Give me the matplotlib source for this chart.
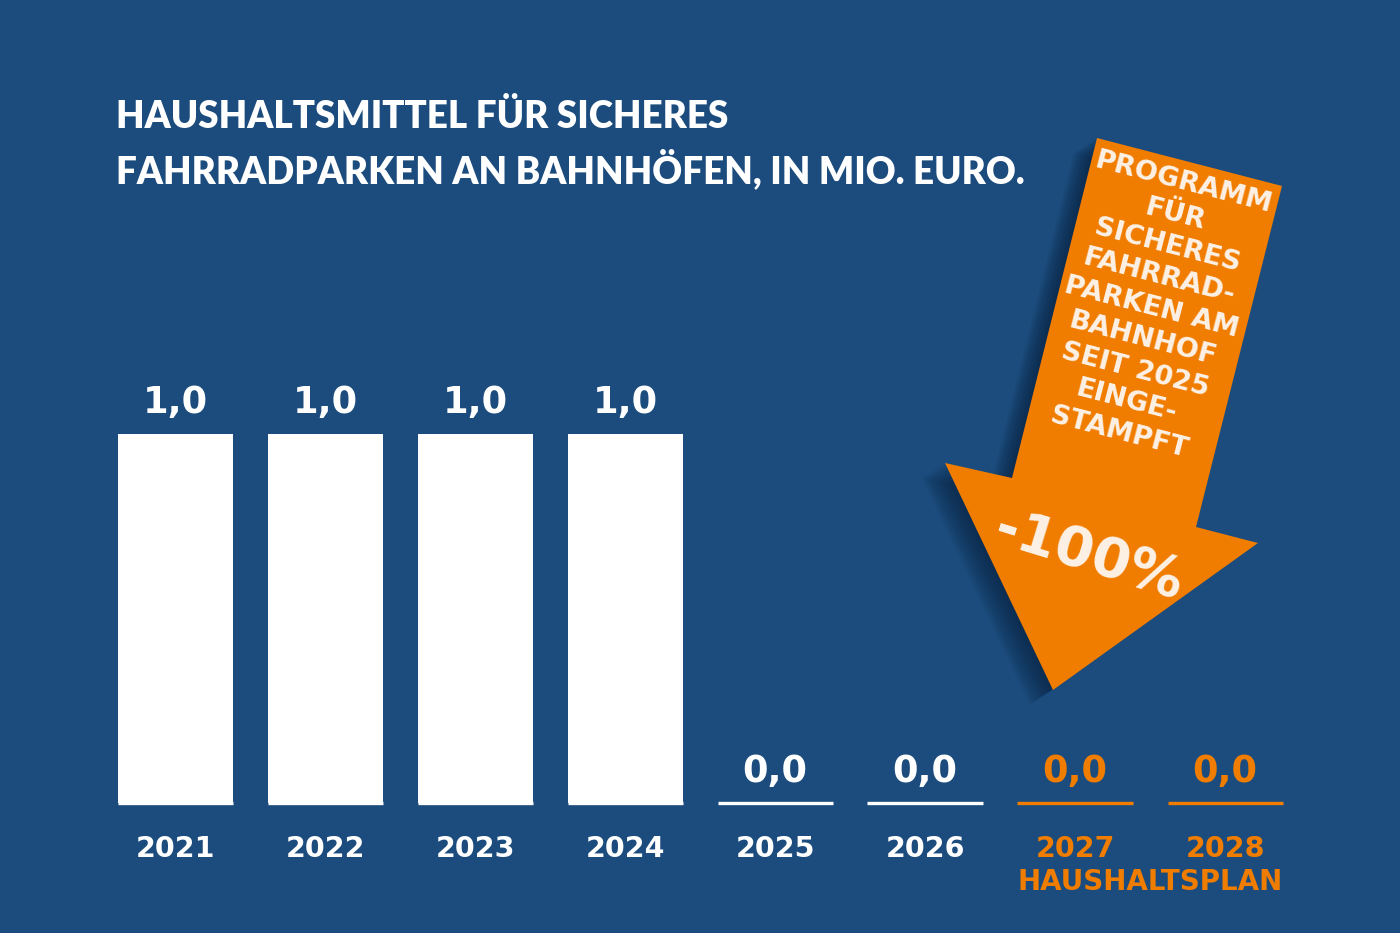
import matplotlib.pyplot as plt
from matplotlib.patches import Polygon
import numpy as np

# --- data ---
years = ["2021", "2022", "2023", "2024", "2025", "2026", "2027", "2028"]
values = [1.0, 1.0, 1.0, 1.0, 0.0, 0.0, 0.0, 0.0]
planned = [False, False, False, False, False, False, True, True]
title = "HAUSHALTSMITTEL FÜR SICHERES\nFAHRRADPARKEN AN BAHNHÖFEN, IN MIO. EURO."
arrow_text = "PROGRAMM\nFÜR\nSICHERES\nFAHRRAD-\nPARKEN AM\nBAHNHOF\nSEIT 2025\nEINGE-\nSTAMPFT"
change_label = "-100%"
plan_label = "HAUSHALTSPLAN"

BG = "#1b4c7d"
ORANGE = "#f07d00"
WHITE = "#ffffff"
CREAM = "#fdf1e6"
SHADOW = "#0a2240"

W, H = 1400, 933
fig = plt.figure(figsize=(W / 100, H / 100), dpi=100)
fig.patch.set_facecolor(BG)

# bar axes over the whole figure: index 0 centred at x=175px, 150px apart,
# zero line at 130px from bottom, 1.0 = 369px
ax = fig.add_axes([0, 0, 1, 1])
ax.set_facecolor(BG)
ax.set_xlim(-175 / 150, (W - 175) / 150)
ax.set_ylim(-130 / 369, (H - 130) / 369)
ax.axis("off")

x = np.arange(len(years))
cols = [ORANGE if p else WHITE for p in planned]
bw = 115 / 150
ax.hlines(np.zeros(len(x)), x - bw / 2, x + bw / 2, colors=cols, linewidth=2.4, zorder=2)
ax.bar(x, values, width=bw, color=cols, zorder=3)

num_font = dict(family="DejaVu Sans", weight="bold")
for xi, v, c, y in zip(x, values, cols, years):
    ax.annotate(f"{v:.1f}".replace(".", ","), xy=(xi, v), xytext=(0, 15),
                textcoords="offset points", ha="center", va="baseline",
                fontsize=26.5, color=c, **num_font)
    ax.annotate(y, xy=(xi, 0), xytext=(0, -39), textcoords="offset points",
                ha="center", va="baseline", fontsize=20.5, color=c, **num_font)

ax.annotate(plan_label, xy=(6.5, 0), xytext=(0, -63), textcoords="offset points",
            ha="center", va="baseline", fontsize=20, color=ORANGE,
            family="DejaVu Sans", weight="bold")

# title (baseline of the last line)
fig.text(116 / W, 1 - 183 / H, title, ha="left", va="baseline", color=WHITE,
         fontsize=26.5, family="Lato", weight="heavy", linespacing=1.4)

# arrow overlay in pixel coordinates
ov = fig.add_axes([0, 0, 1, 1])
ov.set_xlim(0, W)
ov.set_ylim(H, 0)
ov.axis("off")
ov.patch.set_alpha(0)

arrow_pts = np.array([
    [1097, 138], [1282, 186], [1196, 527], [1258, 543],
    [1053, 690], [945, 463], [1012, 478],
])
for k in range(10):
    d = 2 + 3 * k
    ov.add_patch(Polygon(arrow_pts + np.array([-d * 0.8, d * 0.5]), closed=True,
                         facecolor=SHADOW, edgecolor="none", alpha=0.1, zorder=1))
ov.add_patch(Polygon(arrow_pts, closed=True, facecolor=ORANGE,
                     edgecolor="none", zorder=2))

ov.text(1151, 308, arrow_text, ha="center", va="center", rotation=-14.5,
        rotation_mode="anchor", color=CREAM, fontsize=19.5, family="DejaVu Sans",
        weight="bold", linespacing=1.31, zorder=3)
ov.text(1089, 556, change_label, ha="center", va="center", rotation=-17,
        rotation_mode="anchor", color=CREAM, fontsize=40, family="DejaVu Sans",
        weight="bold", zorder=3)

fig.savefig("out.png", dpi=100, facecolor=BG)
